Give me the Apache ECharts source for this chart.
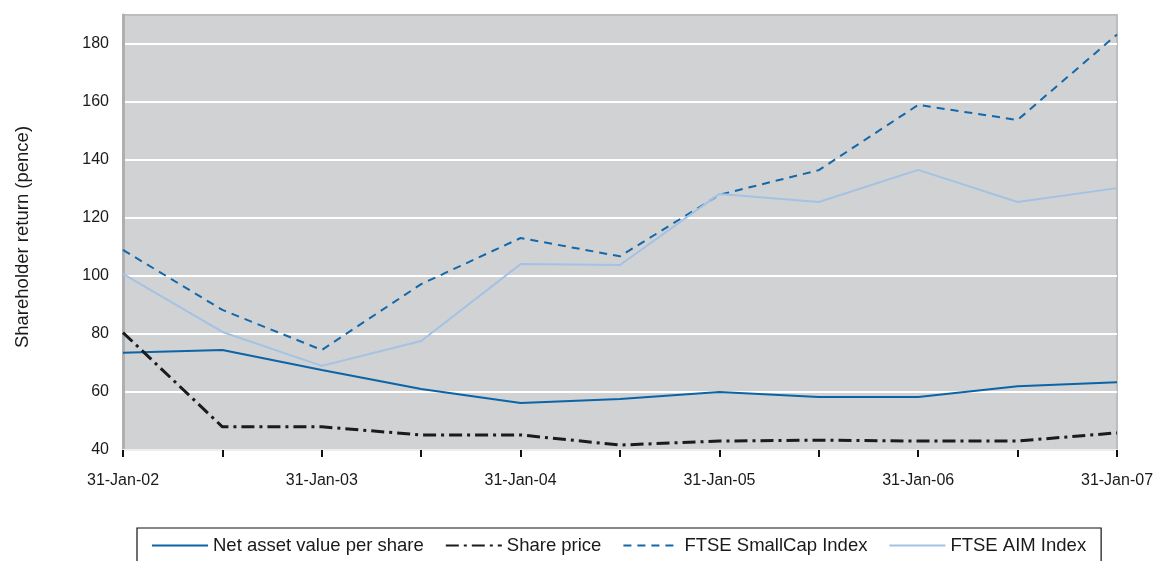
<!DOCTYPE html>
<html>
<head>
<meta charset="utf-8">
<script src="https://cdn.jsdelivr.net/npm/echarts@6/dist/echarts.min.js"></script>
<style>
  html, body { margin: 0; padding: 0; background: #ffffff; }
  #chart { width: 1157px; height: 561px; }
</style>
</head>
<body>
<div id="chart"></div>
<script>
// Half-yearly observation dates
const dates = ['31-Jan-02', '31-Jul-02', '31-Jan-03', '31-Jul-03', '31-Jan-04', '31-Jul-04',
               '31-Jan-05', '31-Jul-05', '31-Jan-06', '31-Jul-06', '31-Jan-07'];

// Shareholder return, pence
const navPerShare = [73.5, 74.5, 67.6, 61.0, 56.2, 57.6, 60.0, 58.3, 58.3, 62.0, 63.4];
const sharePrice  = [80.5, 48.0, 48.0, 45.2, 45.2, 41.7, 43.1, 43.4, 43.1, 43.1, 45.9];
const ftseSmallCap = [109.0, 88.3, 74.5, 97.2, 113.1, 106.8, 128.0, 136.5, 159.0, 153.8, 183.3];
const ftseAim      = [100.7, 80.7, 69.0, 77.6, 104.1, 103.8, 128.3, 125.5, 136.6, 125.5, 130.3];

const yTicks = { min: 40, max: 190, step: 20 };

const font = 'Liberation Sans, Arial, Helvetica, sans-serif';
const chart = echarts.init(document.getElementById('chart'), null, { renderer: 'canvas' });

function lineSeries(name, data, color, width, type) {
  return {
    name, type: 'line', data,
    symbol: 'none', smooth: false,
    lineStyle: { color, width, type },
    itemStyle: { color },
    emphasis: { disabled: true },
    animation: false
  };
}

chart.setOption({
  animation: false,
  backgroundColor: '#ffffff',
  grid: {
    left: 123, right: 40, top: 15, bottom: 111,
    show: true,
    backgroundColor: '#d1d2d4',
    borderColor: '#bcbdbf',
    borderWidth: 2
  },
  xAxis: {
    type: 'category',
    data: dates,
    boundaryGap: false,
    axisLine: { show: true, lineStyle: { color: '#eeeeee', width: 2 } },
    axisTick: { show: true, interval: 0, length: 7, lineStyle: { color: '#111111', width: 2 } },
    axisLabel: { interval: 1, margin: 23, color: '#1a1a1a', fontSize: 16, fontFamily: font },
    splitLine: { show: false }
  },
  yAxis: {
    type: 'value',
    min: yTicks.min, max: yTicks.max, interval: yTicks.step,
    axisLine: { show: true, lineStyle: { color: '#aeafb1', width: 3 } },
    axisTick: { show: false },
    axisLabel: { showMaxLabel: false, margin: 14, color: '#1a1a1a', fontSize: 16, fontFamily: font },
    splitLine: { show: true, showMaxLine: false, showMinLine: false, lineStyle: { color: '#ffffff', width: 2 } }
  },
  legend: {
    top: 528, left: 137,
    padding: [8, 15, 8, 14],
    borderColor: '#111111', borderWidth: 1.2,
    itemWidth: 56, itemHeight: 14, itemGap: 21,
    itemStyle: { opacity: 0 },
    textStyle: { color: '#1a1a1a', fontSize: 18.5, fontFamily: font },
    data: ['Net asset value per share', 'Share price', 'FTSE SmallCap Index', 'FTSE AIM Index']
  },
  graphic: [{
    type: 'text',
    x: 23, y: 237,
    rotation: Math.PI / 2,
    style: {
      text: 'Shareholder return (pence)',
      fill: '#1a1a1a',
      font: '18.5px ' + font,
      align: 'center',
      verticalAlign: 'middle'
    }
  }],
  series: [
    lineSeries('Net asset value per share', navPerShare, '#0b64a6', 2, 'solid'),
    lineSeries('Share price', sharePrice, '#1b1b1b', 3, [13, 5, 3, 5]),
    lineSeries('FTSE SmallCap Index', ftseSmallCap, '#1268aa', 2, [8, 6]),
    lineSeries('FTSE AIM Index', ftseAim, '#a4c2e4', 2, 'solid')
  ]
});
</script>
</body>
</html>
